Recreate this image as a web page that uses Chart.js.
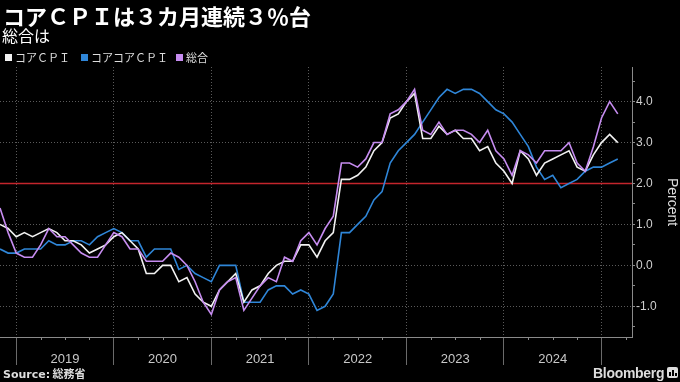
<!DOCTYPE html>
<html><head><meta charset="utf-8">
<script src="https://cdn.jsdelivr.net/npm/chart.js@4.4.1/dist/chart.umd.min.js"></script>
<style>
html,body{margin:0;padding:0;background:#000;}
#wrap{position:relative;width:680px;height:382px;overflow:hidden;background:#000;}
canvas{position:absolute;left:0;top:0;}
.t{position:absolute;white-space:nowrap;line-height:1;font-family:"Noto Sans CJK JP","Noto Sans",sans-serif;}
#title{left:3px;top:4px;font-size:22px;font-weight:bold;color:#fff;}
#sub{left:2px;top:27px;font-size:16px;color:#fff;}
.lg{top:52px;font-size:11px;color:#ddd;}
.sq{position:absolute;top:54px;width:7px;height:7px;}
#src{left:3px;top:368px;font-size:11px;color:#ddd;font-weight:bold;}
#src b{font-family:"DejaVu Sans",sans-serif;}
#bb{left:593px;top:366px;font-size:14px;color:#ddd;font-family:"Liberation Sans","Roboto",sans-serif;font-weight:bold;letter-spacing:-0.3px;}
#icon{position:absolute;left:667px;top:367px;width:11px;height:11px;background:#ddd;border-radius:2px;}
#icon span{position:absolute;bottom:2px;width:2px;background:#000;}
</style></head><body>
<div id="wrap">
<canvas id="c" width="680" height="382"></canvas>
<div class="t" id="title">コアＣＰＩは３カ月連続３％台</div>
<div class="t" id="sub">総合は</div>
<div class="sq" style="left:5px;background:#f2f2f2"></div>
<div class="t lg" style="left:15px">コアＣＰＩ</div>
<div class="sq" style="left:81px;background:#2f86d8"></div>
<div class="t lg" style="left:91px">コアコアＣＰＩ</div>
<div class="sq" style="left:176px;background:#c68cf0"></div>
<div class="t lg" style="left:186px">総合</div>
<div class="t" id="src"><b>Source:</b> 総務省</div>
<div class="t" id="bb">Bloomberg</div>
<div id="icon"><span style="left:2px;height:4px"></span><span style="left:5px;height:6px"></span><span style="left:8px;height:3px"></span></div>
</div>
<script>
// Monthly data, Oct 2018 .. Feb 2025 (year-on-year %, index 0 = Oct 2018)
const START_MONTH = '2018-10';
const YEARS = ['2019','2020','2021','2022','2023','2024'];
const coreCPI = [
  1.0, 0.9, 0.7,
  0.8, 0.7, 0.8, 0.9, 0.8, 0.6, 0.6, 0.5, 0.3, 0.4, 0.5, 0.7,
  0.8, 0.6, 0.4, -0.2, -0.2, 0.0, 0.0, -0.4, -0.3, -0.7, -0.9, -1.0,
  -0.6, -0.4, -0.2, -0.9, -0.6, -0.5, -0.2, 0.0, 0.1, 0.1, 0.5, 0.5,
  0.2, 0.6, 0.8, 2.1, 2.1, 2.2, 2.4, 2.8, 3.0, 3.6, 3.7, 4.0,
  4.2, 3.1, 3.1, 3.4, 3.2, 3.3, 3.1, 3.1, 2.8, 2.9, 2.5, 2.3,
  2.0, 2.8, 2.6, 2.2, 2.5, 2.6, 2.7, 2.8, 2.4, 2.3, 2.7, 3.0,
  3.2, 3.0
];
const coreCoreCPI = [
  0.4, 0.3, 0.3,
  0.4, 0.4, 0.4, 0.6, 0.5, 0.5, 0.6, 0.6, 0.5, 0.7, 0.8, 0.9,
  0.8, 0.6, 0.6, 0.2, 0.4, 0.4, 0.4, -0.1, 0.0, -0.2, -0.3, -0.4,
  0.0, 0.0, 0.0, -0.9, -0.9, -0.9, -0.6, -0.5, -0.5, -0.7, -0.6, -0.7,
  -1.1, -1.0, -0.7, 0.8, 0.8, 1.0, 1.2, 1.6, 1.8, 2.5, 2.8, 3.0,
  3.2, 3.5, 3.8, 4.1, 4.3, 4.2, 4.3, 4.3, 4.2, 4.0, 3.8, 3.7,
  3.5, 3.2, 2.9, 2.4, 2.1, 2.2, 1.9, 2.0, 2.1, 2.3, 2.4, 2.4,
  2.5, 2.6
];
const headlineCPI = [
  1.4, 0.8, 0.3,
  0.2, 0.2, 0.5, 0.9, 0.7, 0.7, 0.5, 0.3, 0.2, 0.2, 0.5, 0.8,
  0.7, 0.4, 0.4, 0.1, 0.1, 0.1, 0.3, 0.2, 0.0, -0.4, -0.9, -1.2,
  -0.6, -0.4, -0.3, -1.1, -0.8, -0.5, -0.3, -0.4, 0.2, 0.1, 0.6, 0.8,
  0.5, 0.9, 1.2, 2.5, 2.5, 2.4, 2.6, 3.0, 3.0, 3.7, 3.8, 4.0,
  4.3, 3.3, 3.2, 3.5, 3.2, 3.3, 3.3, 3.2, 3.0, 3.3, 2.8, 2.6,
  2.2, 2.8, 2.7, 2.5, 2.8, 2.8, 2.8, 3.0, 2.5, 2.3, 2.9, 3.6,
  4.0, 3.7
];
const TARGET_RATE = 2.0;
const Y_TICKS = [-1.0, 0.0, 1.0, 2.0, 3.0, 4.0];

const X_MIN = 0, X_MAX = 77.75, Y_MIN = -1.75, Y_MAX = 4.846;
const toPts = arr => arr.map((v, i) => ({x: i, y: v}));
// year boundaries (end of Dec) and year centres in month-index units
const boundaryIdx = YEARS.map((y, k) => 2 + 12 * k).concat([2 + 12 * YEARS.length]);
const centerIdx = YEARS.map((y, k) => 8 + 12 * k);
const quarterIdx = [];
for (let v = 2; v <= X_MAX; v += 3) quarterIdx.push(v);

const minorTicks = {
  id: 'minorTicks',
  afterDraw(chart) {
    const ctx = chart.ctx, xs = chart.scales.x;
    ctx.save();
    ctx.strokeStyle = '#8a8a8a';
    ctx.lineWidth = 1;
    quarterIdx.forEach(v => {
      if (boundaryIdx.includes(v)) return;
      const px = Math.round(xs.getPixelForValue(v)) + 0.5;
      ctx.beginPath();
      ctx.moveTo(px, xs.top);
      ctx.lineTo(px, xs.top + 3);
      ctx.stroke();
    });
    ctx.restore();
  }
};

const lineBase = {borderWidth: 1.6, pointRadius: 0, tension: 0, fill: false};
new Chart(document.getElementById('c'), {
  type: 'line',
  data: {datasets: [
    Object.assign({label: '総合', data: toPts(headlineCPI), borderColor: '#c68cf0', order: 1}, lineBase),
    Object.assign({label: 'コアＣＰＩ', data: toPts(coreCPI), borderColor: '#f2f2f2', order: 2}, lineBase),
    Object.assign({label: 'コアコアＣＰＩ', data: toPts(coreCoreCPI), borderColor: '#2f86d8', order: 3}, lineBase),
    {label: 'target', data: [{x: X_MIN, y: TARGET_RATE}, {x: X_MAX, y: TARGET_RATE}],
     borderColor: '#c4252c', borderWidth: 1.7, pointRadius: 0, order: 4}
  ]},
  options: {
    responsive: false, animation: false, devicePixelRatio: 1,
    layout: {padding: {top: 67, left: 0, right: 0, bottom: 0}},
    plugins: {legend: {display: false}, tooltip: {enabled: false}},
    scales: {
      x: {
        type: 'linear', position: 'bottom', min: X_MIN, max: X_MAX,
        afterBuildTicks: s => {
          s.ticks = boundaryIdx.concat(centerIdx).filter(v => v <= X_MAX)
            .sort((a, b) => a - b).map(v => ({value: v}));
        },
        afterFit: s => { s.height = 45; },
        ticks: {
          autoSkip: false, maxRotation: 0, minRotation: 0, padding: -13,
          color: '#c8c8c8', font: {family: 'Liberation Sans, Arial, sans-serif', size: 13},
          callback: v => { const k = centerIdx.indexOf(v); return k >= 0 ? YEARS[k] : ''; }
        },
        grid: {
          color: c => boundaryIdx.includes(c.tick.value) ? '#5a5a5a' : 'rgba(0,0,0,0)',
          tickColor: c => boundaryIdx.includes(c.tick.value) ? '#6a6a6a' : 'rgba(0,0,0,0)',
          tickLength: 28, lineWidth: 1
        },
        border: {display: true, color: '#8a8a8a', width: 1, dash: [1, 2]}
      },
      y: {
        type: 'linear', position: 'right', min: Y_MIN, max: Y_MAX,
        afterBuildTicks: s => {
          const t = [];
          for (let k = -3; k <= 9; k++) t.push({value: k / 2});
          s.ticks = t;
        },
        afterFit: s => { s.width = 48; },
        ticks: {
          padding: 1, color: '#cfcfcf', font: {family: 'Liberation Sans, Arial, sans-serif', size: 12},
          callback: v => Y_TICKS.includes(v) ? v.toFixed(1) : ''
        },
        grid: {
          color: c => (Number.isInteger(c.tick.value) && c.tick.value !== TARGET_RATE) ? '#5a5a5a' : 'rgba(0,0,0,0)',
          tickColor: '#8a8a8a', tickLength: 3, lineWidth: 1
        },
        border: {display: true, color: '#8a8a8a', width: 1, dash: [1, 2]},
        title: {display: true, text: 'Percent', color: '#dddddd',
                font: {family: 'Liberation Sans, Arial, sans-serif', size: 14}, padding: {top: 0, bottom: 0}}
      }
    }
  },
  plugins: [minorTicks]
});
</script>
</body></html>
